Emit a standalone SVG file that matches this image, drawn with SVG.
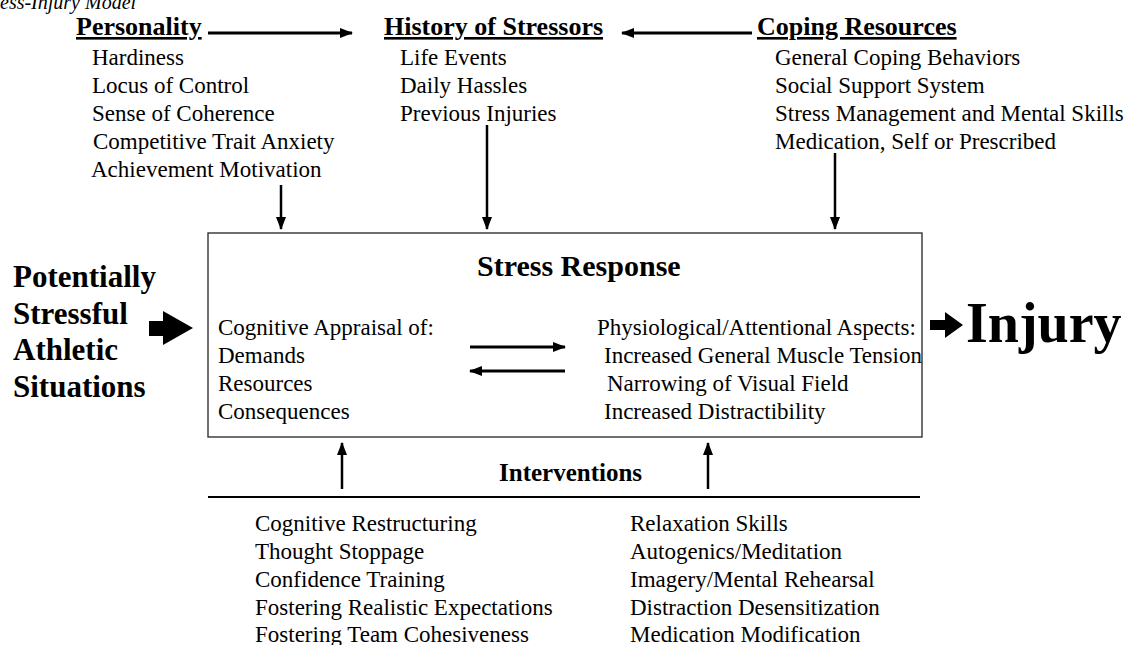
<svg xmlns="http://www.w3.org/2000/svg" width="1133" height="645" viewBox="0 0 1133 645">
<defs>
<style>
text{font-family:"Liberation Serif","Times New Roman",serif;fill:#000}
.b{font-size:23px}
.h{font-size:26px;font-weight:bold;text-decoration:underline}
.s{font-size:31px;font-weight:bold}
.ln{stroke:#000;stroke-width:3;fill:none}
.ln2{stroke:#000;stroke-width:2.5;fill:none}
</style>
<marker id="ah" markerUnits="userSpaceOnUse" markerWidth="14" markerHeight="12" refX="12" refY="6" orient="auto">
<path d="M0,1 L13,6 L0,11 Z" fill="#000"/>
</marker>
</defs>
<rect width="1133" height="645" fill="#fff"/>
<text x="0" y="9" style="font-size:20px;font-style:italic">ess-Injury Model</text>

<g id="personality">
<text x="76" y="35" class="h">Personality</text>
<text x="92" y="65" class="b">Hardiness</text>
<text x="92" y="93" class="b">Locus of Control</text>
<text x="92" y="121" class="b">Sense of Coherence</text>
<text x="93" y="149" class="b">Competitive Trait Anxiety</text>
<text x="91" y="177" class="b">Achievement Motivation</text>
</g>

<g id="history">
<text x="384" y="35" class="h">History of Stressors</text>
<text x="400" y="65" class="b">Life Events</text>
<text x="400" y="93" class="b">Daily Hassles</text>
<text x="400" y="121" class="b">Previous Injuries</text>
</g>

<g id="coping">
<text x="757" y="35" class="h">Coping Resources</text>
<text x="775" y="65" class="b">General Coping Behaviors</text>
<text x="775" y="93" class="b">Social Support System</text>
<text x="775" y="121" class="b">Stress Management and Mental Skills</text>
<text x="775" y="149" class="b">Medication, Self or Prescribed</text>
</g>

<g id="situations">
<text x="13" y="287" class="s">Potentially</text>
<text x="13" y="324" class="s">Stressful</text>
<text x="13" y="360" class="s">Athletic</text>
<text x="13" y="397" class="s">Situations</text>
</g>

<g id="stress-response">
<rect x="208" y="233" width="714" height="204" fill="none" stroke="#333" stroke-width="1.4"/>
<text x="477" y="276" style="font-size:30px;font-weight:bold">Stress Response</text>
<text x="218" y="335" class="b">Cognitive Appraisal of:</text>
<text x="218" y="363" class="b">Demands</text>
<text x="218" y="391" class="b">Resources</text>
<text x="218" y="419" class="b">Consequences</text>
<text x="597" y="335" class="b">Physiological/Attentional Aspects:</text>
<text x="604" y="363" class="b">Increased General Muscle Tension</text>
<text x="607" y="391" class="b">Narrowing of Visual Field</text>
<text x="604" y="419" class="b">Increased Distractibility</text>
</g>

<g id="injury">
<text x="966" y="342" style="font-size:56px;font-weight:bold">Injury</text>
</g>

<g id="interventions">
<text x="499" y="481" style="font-size:25px;font-weight:bold">Interventions</text>
<line x1="208" y1="497" x2="920" y2="497" stroke="#000" stroke-width="2"/>
<text x="255" y="531" class="b">Cognitive Restructuring</text>
<text x="255" y="559" class="b">Thought Stoppage</text>
<text x="255" y="587" class="b">Confidence Training</text>
<text x="255" y="615" class="b">Fostering Realistic Expectations</text>
<text x="255" y="642" class="b">Fostering Team Cohesiveness</text>
<text x="630" y="531" class="b">Relaxation Skills</text>
<text x="630" y="559" class="b">Autogenics/Meditation</text>
<text x="630" y="587" class="b">Imagery/Mental Rehearsal</text>
<text x="630" y="615" class="b">Distraction Desensitization</text>
<text x="630" y="642" class="b">Medication Modification</text>
</g>

<g id="connectors">
<line x1="208" y1="33" x2="352" y2="33" class="ln" marker-end="url(#ah)"/>
<line x1="752" y1="33" x2="622" y2="33" class="ln" marker-end="url(#ah)"/>
<line x1="281" y1="185" x2="281" y2="229" class="ln2" marker-end="url(#ah)"/>
<line x1="487" y1="125" x2="487" y2="229" class="ln2" marker-end="url(#ah)"/>
<line x1="835" y1="153" x2="835" y2="229" class="ln2" marker-end="url(#ah)"/>
<line x1="470" y1="347" x2="565" y2="347" class="ln" marker-end="url(#ah)"/>
<line x1="565" y1="371" x2="470" y2="371" class="ln" marker-end="url(#ah)"/>
<line x1="342" y1="489" x2="342" y2="443" class="ln2" marker-end="url(#ah)"/>
<line x1="708" y1="489" x2="708" y2="443" class="ln2" marker-end="url(#ah)"/>
<path d="M149,321 L163,321 L163,311 L193,328 L163,345 L163,336 L149,336 Z" fill="#000"/>
<path d="M930,320 L945,320 L945,312 L963,325 L945,338 L945,330 L930,330 Z" fill="#000"/>
</g>
</svg>
